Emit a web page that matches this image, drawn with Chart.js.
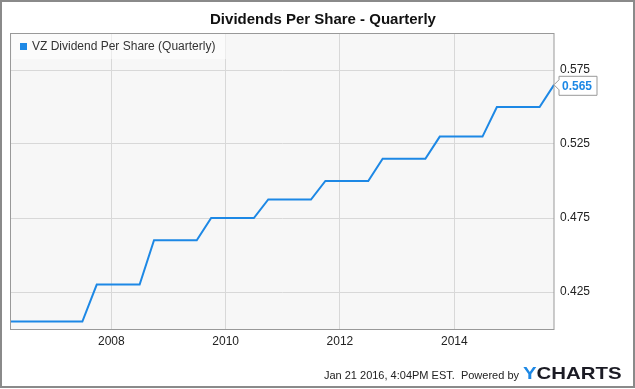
<!DOCTYPE html>
<html>
<head>
<meta charset="utf-8">
<script src="https://cdn.jsdelivr.net/npm/chart.js@4"></script>
<style>
  html, body { margin: 0; padding: 0; background: #ffffff; }
  canvas { display: block; }
</style>
</head>
<body>
<canvas id="c" width="635" height="389"></canvas>
<script>
// ---- Data (quarter-end dates, VZ dividend per share) ----
const quarterDates = [
  '2006-03-31','2006-06-30','2006-09-30','2006-12-31',
  '2007-03-31','2007-06-30','2007-09-30','2007-12-31',
  '2008-03-31','2008-06-30','2008-09-30','2008-12-31',
  '2009-03-31','2009-06-30','2009-09-30','2009-12-31',
  '2010-03-31','2010-06-30','2010-09-30','2010-12-31',
  '2011-03-31','2011-06-30','2011-09-30','2011-12-31',
  '2012-03-31','2012-06-30','2012-09-30','2012-12-31',
  '2013-03-31','2013-06-30','2013-09-30','2013-12-31',
  '2014-03-31','2014-06-30','2014-09-30','2014-12-31',
  '2015-03-31','2015-06-30','2015-09-30'
];
const dividendValues = [
  0.405, 0.405, 0.405, 0.405,
  0.405, 0.405, 0.43, 0.43,
  0.43, 0.43, 0.46, 0.46,
  0.46, 0.46, 0.475, 0.475,
  0.475, 0.475, 0.4875, 0.4875,
  0.4875, 0.4875, 0.50, 0.50,
  0.50, 0.50, 0.515, 0.515,
  0.515, 0.515, 0.53, 0.53,
  0.53, 0.53, 0.55, 0.55,
  0.55, 0.55, 0.565
];
const xTickYears = [2008, 2010, 2012, 2014];
const yTickValues = [0.425, 0.475, 0.525, 0.575];
const seriesName = 'VZ Dividend Per Share (Quarterly)';
const chartTitle = 'Dividends Per Share - Quarterly';
const footerText = 'Jan 21 2016, 4:04PM EST.  Powered by';

const LINE_BLUE = '#1d88e5';
const FONT = '"Liberation Sans", Arial, sans-serif';

const toMs = d => Date.parse(d + 'T00:00:00Z');
const points = quarterDates.map((d, i) => ({ x: toMs(d), y: dividendValues[i] }));

const decorPlugin = {
  id: 'decor',
  beforeDraw(chart) {
    const ctx = chart.ctx, a = chart.chartArea;
    ctx.save();
    ctx.fillStyle = '#ffffff';
    ctx.fillRect(0, 0, chart.width, chart.height);
    ctx.fillStyle = '#f7f7f7';
    ctx.fillRect(a.left, a.top, a.right - a.left, a.bottom - a.top);
    ctx.restore();
  },
  afterDraw(chart) {
    const ctx = chart.ctx, a = chart.chartArea;
    ctx.save();
    // plot border
    ctx.strokeStyle = '#999999';
    ctx.lineWidth = 1;
    ctx.strokeRect(a.left - 0.5, a.top + 0.5, a.right - a.left + 0.5, a.bottom - a.top);

    // legend box
    ctx.fillStyle = 'rgba(255,255,255,0.5)';
    ctx.fillRect(a.left + 1, a.top + 1, 214, 25);
    ctx.fillStyle = LINE_BLUE;
    ctx.fillRect(20, 43, 7, 7);
    ctx.fillStyle = '#333333';
    ctx.font = '12px ' + FONT;
    ctx.textBaseline = 'middle';
    ctx.textAlign = 'left';
    ctx.fillText(seriesName, 32, 47);

    // last value callout
    const lastVal = dividendValues[dividendValues.length - 1];
    const yPix = chart.scales.y.getPixelForValue(lastVal);
    const px = a.right;
    const bx = px + 5, bw = 38;
    ctx.beginPath();
    ctx.moveTo(px, yPix);
    ctx.lineTo(bx, yPix - 5);
    ctx.lineTo(bx, yPix - 8.5);
    ctx.lineTo(bx + bw, yPix - 8.5);
    ctx.lineTo(bx + bw, yPix + 10.5);
    ctx.lineTo(bx, yPix + 10.5);
    ctx.lineTo(bx, yPix + 5);
    ctx.closePath();
    ctx.fillStyle = '#ffffff';
    ctx.fill();
    ctx.strokeStyle = '#999999';
    ctx.stroke();
    ctx.fillStyle = LINE_BLUE;
    ctx.font = 'bold 12px ' + FONT;
    ctx.textBaseline = 'middle';
    ctx.fillText(lastVal.toFixed(3), bx + 3, yPix + 1.5);

    // footer
    ctx.fillStyle = '#222222';
    ctx.font = '11px ' + FONT;
    ctx.textAlign = 'right';
    ctx.textBaseline = 'alphabetic';
    ctx.fillText(footerText, 519, 379);

    // YCHARTS logo text
    ctx.save();
    ctx.translate(523, 378.5);
    ctx.scale(1.2, 1);
    ctx.font = 'bold 17px ' + FONT;
    ctx.textAlign = 'left';
    ctx.fillStyle = LINE_BLUE;
    ctx.fillText('Y', 0, 0);
    const yw = ctx.measureText('Y').width;
    ctx.fillStyle = '#1b1b24';
    ctx.fillText('CHARTS', yw, 0);
    ctx.restore();

    // outer frame
    ctx.strokeStyle = '#8a8a8a';
    ctx.lineWidth = 2;
    ctx.strokeRect(1, 1, 633, 386);
    ctx.restore();
  }
};

new Chart(document.getElementById('c'), {
  type: 'line',
  data: {
    datasets: [{
      label: seriesName,
      data: points,
      borderColor: LINE_BLUE,
      borderWidth: 2,
      pointRadius: 0,
      tension: 0,
      fill: false
    }]
  },
  options: {
    responsive: false,
    animation: false,
    devicePixelRatio: 1,
    layout: { padding: { left: 11, right: 0, top: 0, bottom: 0 } },
    plugins: {
      legend: { display: false },
      tooltip: { enabled: false },
      title: {
        display: true,
        text: chartTitle,
        color: '#111111',
        font: { family: FONT, size: 15, weight: 'bold' },
        padding: { top: 11, bottom: 4 }
      }
    },
    scales: {
      x: {
        type: 'linear',
        min: points[0].x,
        max: points[points.length - 1].x,
        afterBuildTicks: s => { s.ticks = xTickYears.map(y => ({ value: Date.UTC(y, 0, 1) })); },
        afterFit: s => { s.height = 60; },
        grid: { color: '#d8d8d8', drawTicks: false },
        border: { display: false },
        ticks: {
          color: '#222222',
          font: { family: FONT, size: 12 },
          padding: 5,
          maxRotation: 0,
          autoSkip: false,
          callback: v => String(new Date(v).getUTCFullYear())
        }
      },
      y: {
        position: 'right',
        min: 0.40,
        max: 0.60,
        afterBuildTicks: s => { s.ticks = yTickValues.map(v => ({ value: v })); },
        afterFit: s => { s.width = 81; },
        grid: { color: '#d8d8d8', drawTicks: false },
        border: { display: false },
        ticks: {
          color: '#222222',
          font: { family: FONT, size: 12 },
          padding: 6,
          callback: v => Number(v).toFixed(3)
        }
      }
    }
  },
  plugins: [decorPlugin]
});
</script>
</body>
</html>
